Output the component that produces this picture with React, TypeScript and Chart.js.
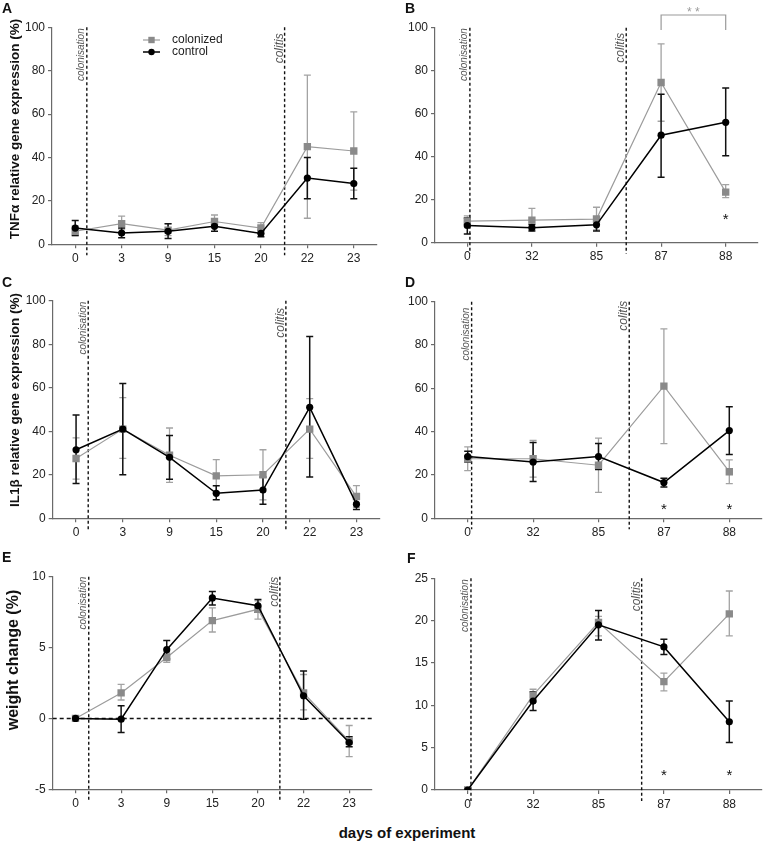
import React, { useEffect, useRef } from "react";
import { Chart, registerables } from "chart.js";

Chart.register(...registerables);

// ---------------- DATA ----------------
const DAYS_SHORT = ["0", "3", "9", "15", "20", "22", "23"];
const DAYS_LONG = ["0", "32", "85", "87", "88"];

// Panel A: TNFα, short experiment
const A_colonized = [6, 9.5, 6.5, 10.5, 7.5, 45, 43];
const A_colonizedHi = [8.5, 13, 9.5, 13.5, 10, 78, 61];
const A_colonizedLo = [4, 7, 4, 8, 5, 12, 25];
const A_control = [7.5, 5.2, 6, 8.3, 5, 30.5, 28];
const A_controlHi = [11, 7.5, 9.5, 11, 6.5, 40, 35];
const A_controlLo = [4, 3, 2.7, 6, 3.5, 21, 21];

// Panel B: TNFα, long experiment
const B_colonized = [10, 10.5, 11, 74.5, 23.5];
const B_colonizedHi = [12.5, 16, 16.5, 92.5, 27];
const B_colonizedLo = [7.5, 6, 6, 56.5, 21];
const B_control = [8, 7, 8.3, 50, 56];
const B_controlHi = [11.5, 8.5, 11, 69, 72];
const B_controlLo = [4, 5.5, 5.5, 30.5, 40.5];
const B_starIdx = [4];
const B_starVal = [12.9];

// Panel C: IL1β, short experiment
const C_colonized = [27.5, 41, 29, 19.5, 20, 41, 10];
const C_colonizedHi = [37, 55.5, 41.5, 27, 31.5, 55, 15];
const C_colonizedLo = [18, 27.5, 16.5, 12, 8.5, 27.5, 5];
const C_control = [31.5, 41, 28, 11.5, 13, 51, 6.5];
const C_controlHi = [47.5, 62, 38, 15, 19, 83.5, 9.5];
const C_controlLo = [16, 20, 18, 8.5, 6.5, 19, 4];

// Panel D: IL1β, long experiment
const D_colonized = [27.5, 27.5, 24.5, 61, 21.5];
const D_colonizedHi = [33, 36, 37, 87.5, 27];
const D_colonizedLo = [22, 19, 12, 34.5, 16];
const D_control = [28.5, 26, 28.5, 16.5, 40.5];
const D_controlHi = [31, 35, 34.5, 18.5, 51.5];
const D_controlLo = [26, 17, 22.5, 14.5, 29.5];
const D_starIdx = [3, 4];
const D_starVal = [6.1, 6.1];

// Panel E: weight change, short experiment
const E_colonized = [0, 1.8, 4.3, 6.9, 7.7, 1.8, -1.6];
const E_colonizedHi = [0, 2.4, 4.6, 7.8, 8.3, 3.1, -0.5];
const E_colonizedLo = [0, 1.3, 3.95, 6.1, 7.0, 0.6, -2.7];
const E_control = [0, -0.05, 4.85, 8.5, 7.95, 1.6, -1.7];
const E_controlHi = [0, 0.9, 5.5, 8.95, 8.4, 3.35, -1.3];
const E_controlLo = [0, -1.0, 4.2, 8.0, 7.5, -0.05, -2.0];

// Panel F: weight change, long experiment
const F_colonized = [0, 11.2, 19.8, 12.8, 20.8];
const F_colonizedHi = [0, 11.9, 20.5, 13.8, 23.5];
const F_colonizedLo = [0, 10.4, 18.2, 11.7, 18.2];
const F_control = [0, 10.5, 19.5, 16.9, 8.05];
const F_controlHi = [0, 11.6, 21.2, 17.8, 10.5];
const F_controlLo = [0, 9.4, 17.7, 16, 5.6];
const F_starIdx = [3, 4];
const F_starVal = [2.16, 2.16];

// ---------------- STYLE ----------------
const FONT = "'Liberation Sans', Arial, Helvetica, sans-serif";
const AXIS = "#6a6a6a";
const TICK_TXT = "#222";
const GRAY_PT = "#8a8a8a";
const GRAY_LINE = "#9c9c9c";
const BLACK = "#000";
const Y_W = 30;
const X_H = 22;

type Mark = { x: number; text: string; size: number; dy: number; off: number };
type PanelCfg = {
  left: number; top: number; width: number; height: number;
  area: { l: number; r: number; t: number; b: number };
  labels: string[];
  col: number[]; colHi: number[]; colLo: number[];
  ctl: number[]; ctlHi: number[]; ctlLo: number[];
  yMin: number; yMax: number; yStep: number;
  marks: Mark[];
  starIdx?: number[]; starVal?: number[];
  legend?: boolean;
  zeroLine?: boolean;
  bracket?: { from: number; to: number; top: number; leg: number; textY: number };
};

const marks = (c: number, cdy: number, k: number, kdy: number): Mark[] => [
  { x: c, text: "colonisation", size: 10, dy: cdy, off: 2.5 },
  { x: k, text: "colitis", size: 12, dy: kdy, off: 2 },
];

const PANELS: PanelCfg[] = [
  {
    left: 0, top: 0, width: 385, height: 272,
    area: { l: 52, r: 377, t: 27.3, b: 244.3 },
    labels: DAYS_SHORT,
    col: A_colonized, colHi: A_colonizedHi, colLo: A_colonizedLo,
    ctl: A_control, ctlHi: A_controlHi, ctlLo: A_controlLo,
    yMin: 0, yMax: 100, yStep: 20,
    marks: marks(0.25, 1, 4.51, 6),
    legend: true,
  },
  {
    left: 385, top: 0, width: 385, height: 272,
    area: { l: 50, r: 373, t: 27.7, b: 242.7 },
    labels: DAYS_LONG,
    col: B_colonized, colHi: B_colonizedHi, colLo: B_colonizedLo,
    ctl: B_control, ctlHi: B_controlHi, ctlLo: B_controlLo,
    yMin: 0, yMax: 100, yStep: 20,
    marks: marks(0.04, 0.5, 2.46, 5),
    starIdx: B_starIdx, starVal: B_starVal,
    bracket: { from: 3, to: 4, top: 105.9, leg: 98.9, textY: 108.7 },
  },
  {
    left: 0, top: 272, width: 385, height: 275,
    area: { l: 52.7, r: 380, t: 28.7, b: 246.3 },
    labels: DAYS_SHORT,
    col: C_colonized, colHi: C_colonizedHi, colLo: C_colonizedLo,
    ctl: C_control, ctlHi: C_controlHi, ctlLo: C_controlLo,
    yMin: 0, yMax: 100, yStep: 20,
    marks: marks(0.26, 1, 4.49, 7),
  },
  {
    left: 385, top: 272, width: 385, height: 275,
    area: { l: 50, r: 377, t: 29.7, b: 246.3 },
    labels: DAYS_LONG,
    col: D_colonized, colHi: D_colonizedHi, colLo: D_colonizedLo,
    ctl: D_control, ctlHi: D_controlHi, ctlLo: D_controlLo,
    yMin: 0, yMax: 100, yStep: 20,
    marks: marks(0.06, 6, 2.47, -1),
    starIdx: D_starIdx, starVal: D_starVal,
  },
  {
    left: 0, top: 548, width: 385, height: 268,
    area: { l: 52.7, r: 372, t: 28.7, b: 241.3 },
    labels: DAYS_SHORT,
    col: E_colonized, colHi: E_colonizedHi, colLo: E_colonizedLo,
    ctl: E_control, ctlHi: E_controlHi, ctlLo: E_controlLo,
    yMin: -5, yMax: 10, yStep: 5,
    marks: marks(0.29, 0, 4.48, 0),
    zeroLine: true,
  },
  {
    left: 385, top: 548, width: 385, height: 268,
    area: { l: 50, r: 377, t: 30.3, b: 242 },
    labels: DAYS_LONG,
    col: F_colonized, colHi: F_colonizedHi, colLo: F_colonizedLo,
    ctl: F_control, ctlHi: F_controlHi, ctlLo: F_controlLo,
    yMin: 0, yMax: 25, yStep: 5,
    marks: marks(0.05, 1, 2.66, 3),
    starIdx: F_starIdx, starVal: F_starVal,
  },
];

// ---------------- PLUGINS ----------------
const errorBars = {
  id: "errorBars",
  beforeDatasetsDraw(chart: any) {
    const ctx = chart.ctx;
    const xs = chart.scales.x;
    const ys = chart.scales.y;
    chart.data.datasets.forEach((ds: any) => {
      ctx.save();
      ctx.strokeStyle = ds.errColor;
      ctx.lineWidth = ds.errWidth;
      ds.errHi.forEach((hi: number, i: number) => {
        const lo = ds.errLo[i];
        if (hi === lo) return;
        const x = xs.getPixelForValue(i);
        const y1 = ys.getPixelForValue(hi);
        const y2 = ys.getPixelForValue(lo);
        ctx.beginPath();
        ctx.moveTo(x, y1);
        ctx.lineTo(x, y2);
        ctx.moveTo(x - 3.5, y1);
        ctx.lineTo(x + 3.5, y1);
        ctx.moveTo(x - 3.5, y2);
        ctx.lineTo(x + 3.5, y2);
        ctx.stroke();
      });
      ctx.restore();
    });
  },
};

const annotations = {
  id: "annotations",
  beforeDatasetsDraw(chart: any, _args: any, opts: any) {
    const p: PanelCfg = opts.panel;
    const ctx = chart.ctx;
    const xs = chart.scales.x;
    const ys = chart.scales.y;
    const ca = chart.chartArea;
    ctx.save();
    ctx.strokeStyle = "#111";
    ctx.lineWidth = 1.4;
    ctx.setLineDash([3, 2.5]);
    p.marks.forEach((m) => {
      const x = xs.getPixelForValue(m.x);
      ctx.beginPath();
      ctx.moveTo(x, ca.top);
      ctx.lineTo(x, ca.bottom + 11);
      ctx.stroke();
    });
    if (p.zeroLine) {
      ctx.setLineDash([4, 3]);
      const y = ys.getPixelForValue(0);
      ctx.beginPath();
      ctx.moveTo(ca.left, y);
      ctx.lineTo(ca.right, y);
      ctx.stroke();
    }
    ctx.restore();
  },
  afterDraw(chart: any, _args: any, opts: any) {
    const p: PanelCfg = opts.panel;
    const ctx = chart.ctx;
    const xs = chart.scales.x;
    const ys = chart.scales.y;
    const ca = chart.chartArea;
    // rotated event labels
    p.marks.forEach((m) => {
      const x = xs.getPixelForValue(m.x);
      ctx.save();
      ctx.translate(x - m.off, ca.top + m.dy);
      ctx.rotate(-Math.PI / 2);
      ctx.font = `italic ${m.size}px ${FONT}`;
      ctx.fillStyle = "#555";
      ctx.textAlign = "right";
      ctx.textBaseline = "alphabetic";
      ctx.fillText(m.text, 0, 0);
      ctx.restore();
    });
    // significance stars
    if (p.starIdx && p.starVal) {
      ctx.save();
      ctx.font = `15px ${FONT}`;
      ctx.fillStyle = "#111";
      ctx.textAlign = "center";
      ctx.textBaseline = "alphabetic";
      p.starIdx.forEach((idx, k) => {
        const x = xs.getPixelForValue(idx);
        const y = ys.getPixelForValue(p.starVal![k]);
        ctx.fillText("*", x, y + 0.58 * 15);
      });
      ctx.restore();
    }
    // bracket
    if (p.bracket) {
      const b = p.bracket;
      const x1 = xs.getPixelForValue(b.from);
      const x2 = xs.getPixelForValue(b.to);
      const yt = ys.getPixelForValue(b.top);
      const yl = ys.getPixelForValue(b.leg);
      ctx.save();
      ctx.strokeStyle = "#9a9a9a";
      ctx.lineWidth = 1.2;
      ctx.beginPath();
      ctx.moveTo(x1, yl);
      ctx.lineTo(x1, yt);
      ctx.lineTo(x2, yt);
      ctx.lineTo(x2, yl);
      ctx.stroke();
      ctx.font = `12px ${FONT}`;
      ctx.fillStyle = "#9a9a9a";
      ctx.textAlign = "center";
      ctx.textBaseline = "alphabetic";
      ctx.fillText("* *", (x1 + x2) / 2, ys.getPixelForValue(b.textY) + 0.58 * 12);
      ctx.restore();
    }
    // legend
    if (p.legend) {
      ctx.save();
      const items = [
        { text: "colonized", y: 40, color: GRAY_LINE, pt: GRAY_PT, square: true },
        { text: "control", y: 52, color: BLACK, pt: BLACK, square: false },
      ];
      items.forEach((it) => {
        ctx.strokeStyle = it.color;
        ctx.lineWidth = it.square ? 1.2 : 1.5;
        ctx.beginPath();
        ctx.moveTo(143, it.y);
        ctx.lineTo(160, it.y);
        ctx.stroke();
        ctx.fillStyle = it.pt;
        if (it.square) {
          ctx.fillRect(151.5 - 3.2, it.y - 3.2, 6.4, 6.4);
        } else {
          ctx.beginPath();
          ctx.arc(151.5, it.y, 3.2, 0, Math.PI * 2);
          ctx.fill();
        }
        ctx.fillStyle = TICK_TXT;
        ctx.font = `12px ${FONT}`;
        ctx.textAlign = "left";
        ctx.textBaseline = "middle";
        ctx.fillText(it.text, 172, it.y);
      });
      ctx.restore();
    }
  },
};

// ---------------- COMPONENTS ----------------
function Panel({ p }: { p: PanelCfg }) {
  const ref = useRef<HTMLCanvasElement>(null);
  useEffect(() => {
    const canvas = ref.current!;
    const toPts = (arr: number[]) => arr.map((v, i) => ({ x: i, y: v }));
    const axisCommon = {
      grid: { drawOnChartArea: false, drawTicks: true, tickLength: 4, color: AXIS, lineWidth: 1.2 },
      border: { color: AXIS, width: 1.2 },
    };
    const chart = new Chart(canvas, {
      type: "line",
      data: {
        datasets: [
          {
            label: "colonized",
            data: toPts(p.col),
            borderColor: GRAY_LINE,
            borderWidth: 1.2,
            pointStyle: "rect",
            pointRadius: 5.2,
            pointBackgroundColor: GRAY_PT,
            pointBorderColor: GRAY_PT,
            pointBorderWidth: 0,
            tension: 0,
            order: 2,
            errHi: p.colHi,
            errLo: p.colLo,
            errColor: "#a3a3a3",
            errWidth: 1.3,
          } as any,
          {
            label: "control",
            data: toPts(p.ctl),
            borderColor: BLACK,
            borderWidth: 1.5,
            pointStyle: "circle",
            pointRadius: 3.6,
            pointBackgroundColor: BLACK,
            pointBorderColor: BLACK,
            pointBorderWidth: 0,
            tension: 0,
            order: 1,
            errHi: p.ctlHi,
            errLo: p.ctlLo,
            errColor: "#111",
            errWidth: 1.5,
          } as any,
        ],
      },
      options: {
        animation: false,
        responsive: false,
        events: [],
        layout: {
          padding: {
            left: p.area.l - Y_W,
            right: p.width - p.area.r,
            top: p.area.t,
            bottom: p.height - p.area.b - X_H,
          },
        },
        plugins: {
          legend: { display: false },
          tooltip: { enabled: false },
          title: { display: false },
          annotations: { panel: p },
        } as any,
        scales: {
          x: {
            type: "linear",
            min: -0.5,
            max: p.labels.length - 0.5,
            afterBuildTicks: (s: any) => {
              s.ticks = p.labels.map((_, i) => ({ value: i }));
            },
            afterFit: (s: any) => {
              s.height = X_H;
              s.paddingLeft = 0;
              s.paddingRight = 0;
              s.paddingTop = 0;
              s.paddingBottom = 0;
            },
            ticks: {
              autoSkip: false,
              maxRotation: 0,
              padding: 3,
              color: TICK_TXT,
              font: { family: FONT, size: 12 },
              callback: (_v: any, i: number) => p.labels[i],
            },
            ...axisCommon,
          },
          y: {
            type: "linear",
            min: p.yMin,
            max: p.yMax,
            afterFit: (s: any) => {
              s.width = Y_W;
              s.paddingLeft = 0;
              s.paddingRight = 0;
              s.paddingTop = 0;
              s.paddingBottom = 0;
            },
            ticks: {
              stepSize: p.yStep,
              padding: 3,
              color: TICK_TXT,
              font: { family: FONT, size: 12 },
            },
            ...axisCommon,
          },
        } as any,
      },
      plugins: [errorBars, annotations],
    });
    return () => chart.destroy();
  }, []);
  return (
    <canvas
      ref={ref}
      width={p.width}
      height={p.height}
      style={{ position: "absolute", left: p.left, top: p.top, width: p.width, height: p.height }}
    />
  );
}

const letterStyle = (left: number, top: number): React.CSSProperties => ({
  position: "absolute",
  left,
  top,
  fontFamily: FONT,
  fontWeight: "bold",
  fontSize: 14,
  lineHeight: 1,
  color: "#111",
});

const vTitle = (cx: number, cy: number, size: number): React.CSSProperties => ({
  position: "absolute",
  left: cx,
  top: cy,
  transform: "translate(-50%, -50%) rotate(-90deg)",
  whiteSpace: "nowrap",
  fontFamily: FONT,
  fontWeight: "bold",
  fontSize: size,
  lineHeight: 1,
  color: "#111",
});

export default function App() {
  return (
    <div style={{ position: "absolute", left: 0, top: 0, width: 770, height: 842, background: "#fff", overflow: "hidden" }}>
      {PANELS.map((p, i) => (
        <Panel key={i} p={p} />
      ))}
      <div style={letterStyle(2, 1)}>A</div>
      <div style={letterStyle(405, 1)}>B</div>
      <div style={letterStyle(2, 275)}>C</div>
      <div style={letterStyle(405, 275)}>D</div>
      <div style={letterStyle(2, 550)}>E</div>
      <div style={letterStyle(407, 551)}>F</div>
      <div style={vTitle(15, 129, 13.5)}>TNFα relative gene expression (%)</div>
      <div style={vTitle(15, 400, 13.5)}>IL1β relative gene expression (%)</div>
      <div style={vTitle(12.5, 660, 16)}>weight change (%)</div>
      <div
        style={{
          position: "absolute",
          left: 407,
          top: 832,
          transform: "translate(-50%, -50%)",
          whiteSpace: "nowrap",
          fontFamily: FONT,
          fontWeight: "bold",
          fontSize: 15,
          lineHeight: 1,
          color: "#111",
        }}
      >
        days of experiment
      </div>
    </div>
  );
}
